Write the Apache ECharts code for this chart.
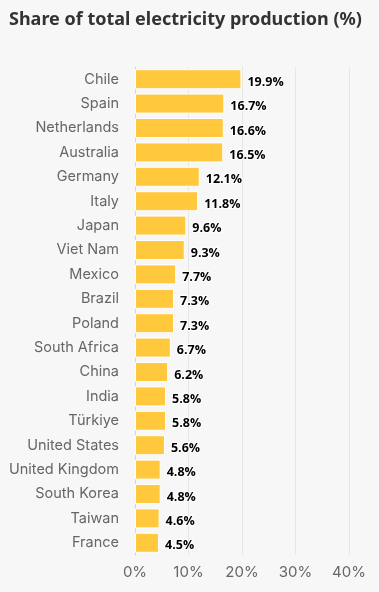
<!DOCTYPE html>
<html><head><meta charset="utf-8">
<script src="https://cdn.jsdelivr.net/npm/echarts@6/dist/echarts.min.js"></script>
<style>html,body{margin:0;padding:0;background:#f7f7f7}#c{width:379px;height:592px}</style>
</head><body><div id="c"></div>
<script>
const countries = ["Chile","Spain","Netherlands","Australia","Germany","Italy","Japan","Viet Nam","Mexico","Brazil","Poland","South Africa","China","India","Türkiye","United States","United Kingdom","South Korea","Taiwan","France"];
const shares = [19.9,16.7,16.6,16.5,12.1,11.8,9.6,9.3,7.7,7.3,7.3,6.7,6.2,5.8,5.8,5.6,4.8,4.8,4.6,4.5];
const xTicks = [0,10,20,30,40];

const chart = echarts.init(document.getElementById('c'));
chart.setOption({
  backgroundColor:'#f7f7f7',
  animation:false,
  title:{text:'Share of total electricity production (%)',left:4,top:6,
    textStyle:{fontFamily:'Noto Sans',fontWeight:'bold',fontSize:18,color:'#333333'}},
  grid:{left:135,right:30,top:67,bottom:37,containLabel:false},
  xAxis:{type:'value',min:xTicks[0],max:xTicks[xTicks.length-1],interval:10,
    axisLine:{show:false},axisTick:{show:false},
    splitLine:{lineStyle:{color:'#e6e6e6',width:1}},
    axisLabel:{formatter:'{value}%',color:'#666666',fontSize:15,fontFamily:'Inter',margin:10}},
  yAxis:{type:'category',data:countries,inverse:true,
    axisLine:{show:true,lineStyle:{color:'#ccd6eb'}},axisTick:{show:false},
    axisLabel:{color:'#666666',fontSize:14.5,fontFamily:'Inter',margin:16}},
  series:[{type:'bar',data:shares,barCategoryGap:'18%',
    itemStyle:{color:'#ffc83d',borderColor:'#ffffff',borderWidth:1},
    label:{show:true,position:'right',distance:6,formatter:p=>p.value.toFixed(1)+'%',
      color:'#000000',fontWeight:'bold',fontSize:12.5,fontFamily:'Open Sans',
      textBorderColor:'#ffffff',textBorderWidth:2,offset:[0,3]}}]
});
</script></body></html>
